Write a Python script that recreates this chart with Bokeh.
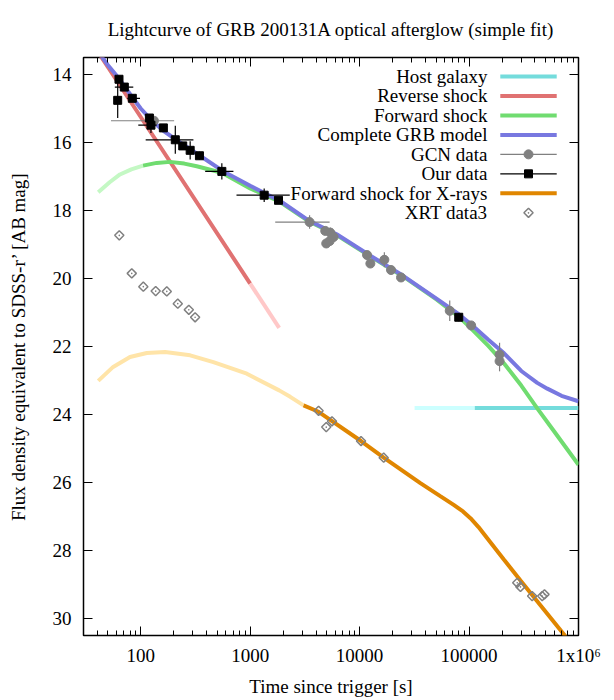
import numpy as np
from bokeh.plotting import figure
from bokeh.models import Range1d, FixedTicker, LogAxis, LinearAxis
from bokeh.core.properties import value
from bokeh.embed import file_html
from bokeh.resources import INLINE

FONT = "Liberation Serif"

# ---------------- data ----------------
# Our data (black squares): time [s], magnitude, x-range low/high, mag error
our_t = [61.6, 63.3, 70.8, 83.8, 120, 124, 161, 207, 242, 283, 344, 551, 1343, 1815, 80500]
our_m = [14.76, 14.14, 14.37, 14.70, 15.28, 15.49, 15.57, 15.92, 16.10, 16.23, 16.39, 16.85, 17.55, 17.70, 21.14]
our_tlo = [61.6, 63.3, 58.0, 75.4, 120, 95, 161, 111, 242, 283, 344, 388, 750, 1815, 80500]
our_thi = [61.6, 63.3, 85.5, 98.5, 120, 140, 161, 303, 242, 283, 344, 703, 2300, 1815, 80500]
our_err = [0.52, 0.0, 0.0, 0.0, 0.0, 0.23, 0.0, 0.41, 0.0, 0.27, 0.12, 0.24, 0.2, 0.0, 0.12]

# GCN data (grey circles)
gcn_t = [132, 3490, 4852, 4955, 5320, 5395, 5780, 11700, 12540, 16830, 19370, 23900, 66600, 104500, 190000, 190000]
gcn_m = [15.36, 18.34, 18.60, 18.97, 18.90, 18.65, 18.78, 19.31, 19.56, 19.45, 19.75, 19.97, 20.95, 21.38, 22.24, 22.43]
gcn_tlo = [53.5, 1694, 4852, 4955, 5320, 5395, 5780, 11700, 12540, 16830, 19370, 23900, 66600, 104500, 190000, 190000]
gcn_thi = [202, 5320, 4852, 4955, 5320, 5395, 5780, 11700, 12540, 16830, 19370, 23900, 66600, 104500, 190000, 190000]
gcn_err = [0.0, 0.2, 0.0, 0.0, 0.0, 0.15, 0.12, 0.0, 0.0, 0.22, 0.0, 0.0, 0.3, 0.0, 0.35, 0.3]

# XRT data (open diamonds)
xrt_t = [63.7, 82.8, 105.6, 137, 173, 218, 275, 314, 4217, 4956, 5590, 10300, 16600,
         275500, 295000, 377000, 466000, 489000]
xrt_m = [18.73, 19.85, 20.24, 20.37, 20.38, 20.74, 20.92, 21.14, 23.89, 24.37, 24.20, 24.78, 25.27,
         28.95, 29.07, 29.34, 29.34, 29.29]

# Model curves
host_light_t = [31800, 112800]
host_light_m = [23.81, 23.81]
host_t = [112800, 1e6]
host_m = [23.81, 23.81]

rs_t = [40, 100, 1000]
rs_m = [13.3, 15.25, 20.15]
rs_light_t = [1000, 1841]
rs_light_m = [20.15, 21.45]

fs_light_t = [40.9, 52, 64.6, 82, 105]
fs_light_m = [17.46, 17.17, 16.94, 16.79, 16.68]
fs_t = [105, 140, 185, 250, 325, 551, 1000, 1880, 3490, 6170, 12540, 25000, 50700,
        80500, 103000, 150000, 209000, 300000, 420000, 600000, 1e6]
fs_m = [16.68, 16.60, 16.57, 16.62, 16.70, 16.89, 17.35, 17.75, 18.33, 18.72, 19.35, 19.94, 20.62,
        21.12, 21.45, 21.98, 22.50, 23.15, 23.82, 24.50, 25.48]

grb_t = [40, 50, 63.3, 80, 100, 124, 160, 229, 348, 570, 1000, 1880, 3490, 6170, 12540, 25000,
         50700, 80500, 103000, 150000, 209000, 300000, 420000, 519000, 700000, 1e6]
grb_m = [13.28, 13.72, 14.12, 14.58, 15.00, 15.33, 15.65, 16.00, 16.39, 16.85, 17.27, 17.72, 18.31,
         18.70, 19.33, 19.92, 20.60, 21.05, 21.33, 21.80, 22.20, 22.72, 23.07, 23.24, 23.45, 23.61]

fsx_light_t = [40.9, 56, 79.8, 113.5, 167, 283, 461, 932, 1841, 2323, 3074]
fsx_light_m = [23.01, 22.60, 22.31, 22.19, 22.16, 22.26, 22.46, 22.80, 23.29, 23.48, 23.73]
fsx_t = [3074, 4217, 10300, 16600, 35900, 55000, 72400, 88000, 103000, 122000, 146000,
         207000, 295000, 734000, 760000]
fsx_m = [23.73, 23.92, 24.78, 25.27, 26.02, 26.41, 26.66, 26.85, 27.05, 27.31, 27.63,
         28.26, 28.88, 30.46, 30.53]

x_major = [100, 1000, 10000, 100000, 1000000]
x_labels = ["100", "1000", "10000", "100000", "1x10\u2076"]
y_major = [14, 16, 18, 20, 22, 24, 26, 28, 30]

legend_labels = ["Host galaxy", "Reverse shock", "Forward shock", "Complete GRB model",
                 "GCN data", "Our data", "Forward shock for X-rays", "XRT data3"]

# ---------------- styles ----------------
C_HOST, C_HOST_L = "#74dcdc", "#ccffff"
C_RS, C_RS_L = "#e07272", "#ffc8c8"
C_FS, C_FS_L = "#70dc70", "#c4f8c4"
C_GRB = "#7878e0"
C_FSX, C_FSX_L = "#e08600", "#ffe4a8"
C_GCN = "#808080"
LW = 4

X_START, X_END = 30, 1e6
Y_TOP, Y_BOTTOM = 13.5, 30.5

p = figure(width=606, height=699, x_axis_type="log",
           x_range=Range1d(X_START, X_END), y_range=Range1d(Y_BOTTOM, Y_TOP),
           output_backend="svg", toolbar_location=None,
           min_border_left=83, min_border_right=28, min_border_top=57, min_border_bottom=62)
p.background_fill_color = "white"
p.border_fill_color = "white"
p.grid.visible = False
p.outline_line_color = "black"
p.outline_line_width = 1.5

minor = []
for dec in [10, 100, 1000, 10000, 100000]:
    for k in range(2, 10):
        v = k * dec
        if X_START <= v < X_END:
            minor.append(v)
xticker = FixedTicker(ticks=x_major, minor_ticks=minor)
yticker = FixedTicker(ticks=y_major, minor_ticks=[])


def style_axis(ax):
    ax.axis_line_color = None
    ax.major_tick_in = 9
    ax.major_tick_out = 0
    ax.minor_tick_in = 5
    ax.minor_tick_out = 0
    ax.major_tick_line_color = "black"
    ax.minor_tick_line_color = "black"
    ax.major_label_text_font = FONT
    ax.major_label_text_font_size = "19px"
    ax.major_label_text_color = "black"
    ax.axis_label_text_font = FONT
    ax.axis_label_text_font_size = "19px"
    ax.axis_label_text_font_style = "normal"
    ax.axis_label_text_color = "black"


xax = p.xaxis[0]
xax.ticker = xticker
xax.major_label_overrides = {t: l for t, l in zip(x_major, x_labels)}
style_axis(xax)
xax.major_label_standoff = 9
xax.axis_label = "Time since trigger [s]"
xax.axis_label_standoff = 7

yax = p.yaxis[0]
yax.ticker = yticker
style_axis(yax)
yax.major_label_standoff = 12
yax.axis_label = "Flux density equivalent to SDSS-r\u2019 [AB mag]"
yax.axis_label_standoff = 21

# mirrored tick marks (no labels) on top and right
top_ax = LogAxis(ticker=xticker)
style_axis(top_ax)
top_ax.major_label_overrides = {t: "" for t in x_major}
top_ax.major_label_standoff = 0
p.add_layout(top_ax, "above")
right_ax = LinearAxis(ticker=yticker)
style_axis(right_ax)
right_ax.major_label_overrides = {t: "" for t in y_major}
right_ax.major_label_standoff = 0
p.add_layout(right_ax, "right")

p.title.text = "Lightcurve of GRB 200131A optical afterglow (simple fit)"
p.title.align = "center"
p.title.vertical_align = "top"
p.title.text_font = FONT
p.title.text_font_size = "19px"
p.title.text_font_style = "normal"
p.title.text_color = "black"
p.title.standoff = 32

# ---------------- curves ----------------
p.line(host_light_t, host_light_m, line_color=C_HOST_L, line_width=LW)
p.line(host_t, host_m, line_color=C_HOST, line_width=LW)
p.line(rs_t, rs_m, line_color=C_RS, line_width=LW)
p.line(rs_light_t, rs_light_m, line_color=C_RS_L, line_width=LW)
p.line(fs_light_t, fs_light_m, line_color=C_FS_L, line_width=LW)
p.line(fs_t, fs_m, line_color=C_FS, line_width=LW)
p.line(grb_t, grb_m, line_color=C_GRB, line_width=LW)

# GCN data
gt, gm, ge = np.array(gcn_t), np.array(gcn_m), np.array(gcn_err)
p.segment(gcn_tlo, gcn_m, gcn_thi, gcn_m, line_color=C_GCN, line_width=1.2)
p.segment(gt, gm - ge, gt, gm + ge, line_color=C_GCN, line_width=1.2)
p.scatter(gcn_t, gcn_m, marker="circle", size=9, fill_color=C_GCN, line_color=C_GCN)

# Our data
ot, om, oe = np.array(our_t), np.array(our_m), np.array(our_err)
p.segment(our_tlo, our_m, our_thi, our_m, line_color="black", line_width=1.2)
p.segment(ot, om - oe, ot, om + oe, line_color="black", line_width=1.2)
p.scatter(our_t, our_m, marker="square", size=8, fill_color="black", line_color="black")

# X-ray forward shock
p.line(fsx_light_t, fsx_light_m, line_color=C_FSX_L, line_width=LW)
p.line(fsx_t, fsx_m, line_color=C_FSX, line_width=LW)

# XRT data
p.scatter(xrt_t, xrt_m, marker="square_dot", angle=np.pi / 4, size=6.5,
          fill_color=None, line_color=C_GCN, line_width=1.5)

# ---------------- legend (text left, sample right) ----------------
def fx_to_t(fx):
    return 10 ** (np.log10(X_START) + fx * (np.log10(X_END) - np.log10(X_START)))


def fy_to_m(fy):
    return Y_TOP + fy * (Y_BOTTOM - Y_TOP)


TEXT_FX, L0_FX, L1_FX, MID_FX = 0.816, 0.842, 0.956, 0.899
ROW0_FY, ROW_DY = 0.0328, 0.0337
rows_m = [fy_to_m(ROW0_FY + i * ROW_DY) for i in range(len(legend_labels))]
p.text(x=[fx_to_t(TEXT_FX)] * len(legend_labels), y=rows_m, text=legend_labels,
       text_align="right", text_baseline="middle", text_font=value(FONT),
       text_font_size="19px", text_color="black")
lx = [fx_to_t(L0_FX), fx_to_t(L1_FX)]
mx = fx_to_t(MID_FX)
for i, c in [(0, C_HOST), (1, C_RS), (2, C_FS), (3, C_GRB), (6, C_FSX)]:
    p.line(lx, [rows_m[i]] * 2, line_color=c, line_width=LW)
p.line(lx, [rows_m[4]] * 2, line_color=C_GCN, line_width=1.2)
p.scatter([mx], [rows_m[4]], marker="circle", size=9, fill_color=C_GCN, line_color=C_GCN)
p.line(lx, [rows_m[5]] * 2, line_color="black", line_width=1.2)
p.scatter([mx], [rows_m[5]], marker="square", size=8, fill_color="black", line_color="black")
p.scatter([mx], [rows_m[7]], marker="square_dot", angle=np.pi / 4, size=6.5,
          fill_color=None, line_color=C_GCN, line_width=1.5)

open("out.html", "w").write(file_html(p, INLINE))
